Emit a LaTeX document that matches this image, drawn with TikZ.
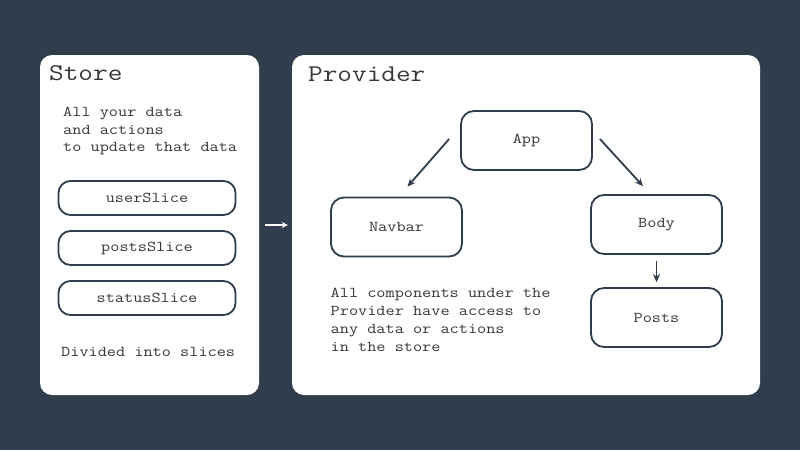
\documentclass[tikz,border=0pt]{standalone}
\usepackage{fontspec}
\setmainfont{Latin Modern Mono}[FakeStretch=1.185]
\usetikzlibrary{arrows.meta}
\definecolor{bgc}{RGB}{47,61,76}
\definecolor{txt}{RGB}{55,55,55}
\tikzset{
  panel/.style={draw=none, fill=white, rounded corners=12pt, inner sep=0pt},
  compbox/.style={draw=bgc, line width=1.8pt, fill=white, rounded corners=13pt, minimum width=131pt, minimum height=59pt, inner sep=0pt, text=txt, font=\fontsize{15}{18}\selectfont},
  slicebox/.style={draw=bgc, line width=1.8pt, fill=white, rounded corners=12pt, minimum width=177pt, minimum height=34pt, inner sep=0pt, text=txt, font=\fontsize{15}{18}\selectfont},
  titletext/.style={anchor=base west, inner sep=0pt, text=txt, font=\fontsize{24}{28}\selectfont},
  bodytext/.style={anchor=base west, inner sep=0pt, align=left, text=txt, font=\fontsize{15}{18}\selectfont},
  conn/.style={draw=bgc, line width=1.8pt, -{Stealth[length=8pt,width=7pt]}},
}
\begin{document}
\begin{tikzpicture}[x=1pt,y=-1pt]
\fill[bgc] (0,0) rectangle (800,450);
\useasboundingbox (0,0) rectangle (800,450);
% panels
\node[panel, minimum width=219pt, minimum height=340pt] (store) at (149.5,225) {};
\node[panel, minimum width=468pt, minimum height=340pt] (provider) at (526,225) {};
% titles
\node[titletext] (storetitle) at (49,80) {Store};
\node[titletext] (providertitle) at (308,81) {Provider};
% store content
\node[bodytext, font=\fontsize{15}{17.5}\selectfont] (storedesc) at (63,151.7) {All your data\\and actions\\to update that data};
\node[slicebox] (userslice) at (147,198) {userSlice};
\node[slicebox] (postsslice) at (147,248) {postsSlice};
\node[slicebox] (statusslice) at (147,298) {statusSlice};
\node[bodytext] (divided) at (61,356.5) {Divided into slices};
% provider content
\node[compbox] (app) at (526.5,140.5) {App};
\node[compbox] (navbar) at (396.5,227) {Navbar};
\node[compbox] (body) at (656.5,224.5) {Body};
\node[compbox] (posts) at (656.5,317.5) {Posts};
\node[bodytext, font=\fontsize{15}{17.9}\selectfont] (provdesc) at (330.5,351.1) {All components under the\\Provider have access to\\any data or actions\\in the store};
% connectors
\draw[conn, draw=white, line width=1.8pt, -{Stealth[length=6pt,width=6pt]}, shorten <=6pt, shorten >=4pt] (store.east) -- (provider.west);
\draw[conn] ([xshift=-11pt,yshift=1.5pt]app.west) -- ([xshift=11pt,yshift=10pt]navbar.north);
\draw[conn] ([xshift=7pt,yshift=1.5pt]app.east) -- ([xshift=-13.5pt,yshift=8pt]body.north);
\draw[conn] ([yshift=-6pt]body.south) -- ([yshift=5pt]posts.north);
\end{tikzpicture}
\end{document}
